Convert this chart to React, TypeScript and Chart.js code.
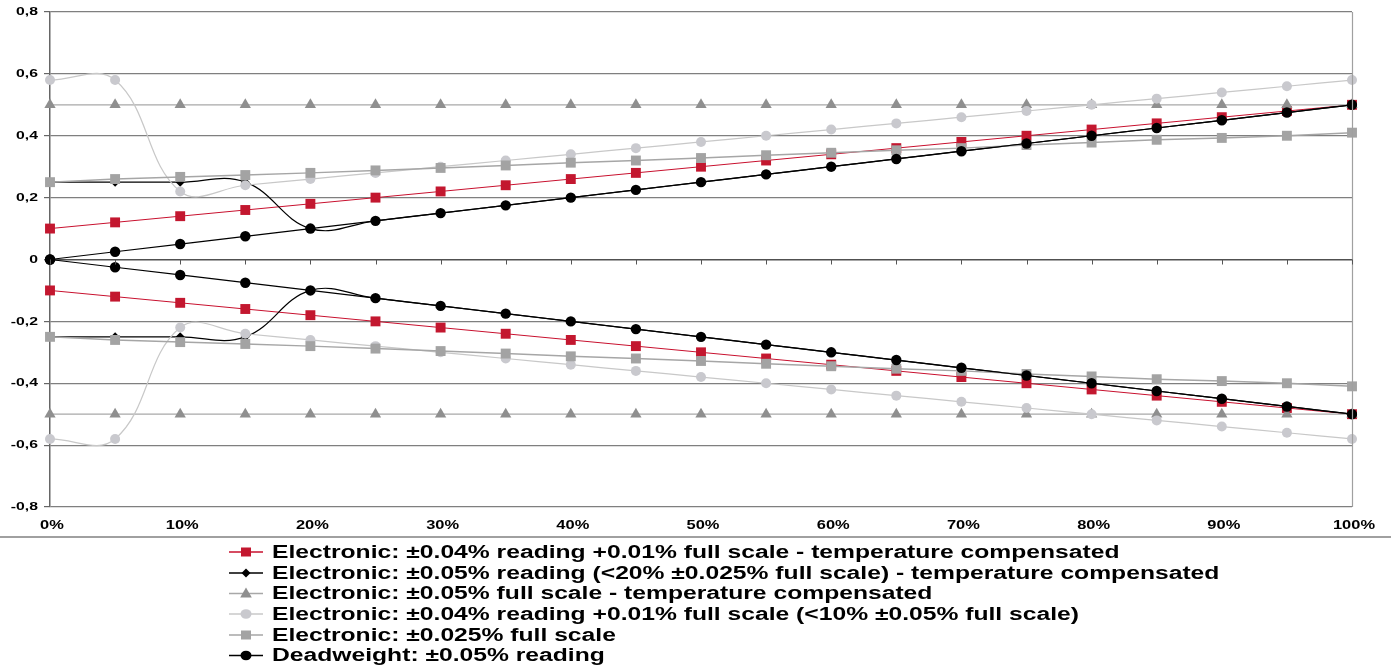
import { useEffect, useRef } from 'react';
import { Chart, registerables } from 'chart.js';

Chart.register(...registerables);

const categories = ['0%', '5%', '10%', '15%', '20%', '25%', '30%', '35%', '40%', '45%', '50%', '55%', '60%', '65%', '70%', '75%', '80%', '85%', '90%', '95%', '100%'];

const redUpper = [0.10, 0.12, 0.14, 0.16, 0.18, 0.20, 0.22, 0.24, 0.26, 0.28, 0.30, 0.32, 0.34, 0.36, 0.38, 0.40, 0.42, 0.44, 0.46, 0.48, 0.50];
const redLower = [-0.10, -0.12, -0.14, -0.16, -0.18, -0.20, -0.22, -0.24, -0.26, -0.28, -0.30, -0.32, -0.34, -0.36, -0.38, -0.40, -0.42, -0.44, -0.46, -0.48, -0.50];

const diamondUpper = [0.25, 0.25, 0.25, 0.25, 0.10, 0.125, 0.15, 0.175, 0.20, 0.225, 0.25, 0.275, 0.30, 0.325, 0.35, 0.375, 0.40, 0.425, 0.45, 0.475, 0.50];
const diamondLower = [-0.25, -0.25, -0.25, -0.25, -0.10, -0.125, -0.15, -0.175, -0.20, -0.225, -0.25, -0.275, -0.30, -0.325, -0.35, -0.375, -0.40, -0.425, -0.45, -0.475, -0.50];

const triangleUpper = [0.5, 0.5, 0.5, 0.5, 0.5, 0.5, 0.5, 0.5, 0.5, 0.5, 0.5, 0.5, 0.5, 0.5, 0.5, 0.5, 0.5, 0.5, 0.5, 0.5, 0.5];
const triangleLower = [-0.5, -0.5, -0.5, -0.5, -0.5, -0.5, -0.5, -0.5, -0.5, -0.5, -0.5, -0.5, -0.5, -0.5, -0.5, -0.5, -0.5, -0.5, -0.5, -0.5, -0.5];

const circleUpper = [0.58, 0.58, 0.22, 0.24, 0.26, 0.28, 0.30, 0.32, 0.34, 0.36, 0.38, 0.40, 0.42, 0.44, 0.46, 0.48, 0.50, 0.52, 0.54, 0.56, 0.58];
const circleLower = [-0.58, -0.58, -0.22, -0.24, -0.26, -0.28, -0.30, -0.32, -0.34, -0.36, -0.38, -0.40, -0.42, -0.44, -0.46, -0.48, -0.50, -0.52, -0.54, -0.56, -0.58];

const squareUpper = [0.25, 0.26, 0.267, 0.273, 0.28, 0.288, 0.296, 0.304, 0.313, 0.32, 0.328, 0.337, 0.345, 0.353, 0.36, 0.37, 0.378, 0.387, 0.393, 0.40, 0.41];
const squareLower = [-0.25, -0.26, -0.267, -0.273, -0.28, -0.288, -0.296, -0.304, -0.313, -0.32, -0.328, -0.337, -0.345, -0.353, -0.36, -0.37, -0.378, -0.387, -0.393, -0.40, -0.41];

const deadweightUpper = [0, 0.025, 0.05, 0.075, 0.10, 0.125, 0.15, 0.175, 0.20, 0.225, 0.25, 0.275, 0.30, 0.325, 0.35, 0.375, 0.40, 0.425, 0.45, 0.475, 0.50];
const deadweightLower = [0, -0.025, -0.05, -0.075, -0.10, -0.125, -0.15, -0.175, -0.20, -0.225, -0.25, -0.275, -0.30, -0.325, -0.35, -0.375, -0.40, -0.425, -0.45, -0.475, -0.50];

const legendLabels = [
  'Electronic: ±0.04% reading +0.01% full scale - temperature compensated',
  'Electronic: ±0.05% reading (<20% ±0.025% full scale) - temperature compensated',
  'Electronic: ±0.05% full scale - temperature compensated',
  'Electronic: ±0.04% reading +0.01% full scale (<10% ±0.05% full scale)',
  'Electronic: ±0.025% full scale',
  'Deadweight: ±0.05% reading',
];

const W = 1391;
const H = 666;
const FONT = '"Liberation Sans", Arial, sans-serif';
const SX = 1.37;

type Style = {
  line: string;
  fill: string;
  point: string;
  radius: number;
  width: number;
  tension: number;
};

const styles: Style[] = [
  { line: '#C8102E', fill: '#C3172F', point: 'rect', radius: 7, width: 1, tension: 0 },
  { line: '#000000', fill: '#000000', point: 'rectRot', radius: 4.5, width: 1.2, tension: 0.4 },
  { line: '#A8A8A8', fill: '#8F8F8F', point: 'triangle', radius: 6.5, width: 1.2, tension: 0 },
  { line: '#C8C8C8', fill: '#C9C9CE', point: 'circle', radius: 5, width: 1.2, tension: 0.4 },
  { line: '#A6A6A6', fill: '#A3A3A3', point: 'rect', radius: 7, width: 1.5, tension: 0 },
  { line: '#000000', fill: '#000000', point: 'circle', radius: 5.2, width: 1.2, tension: 0 },
];

const seriesPairs = [
  [redUpper, redLower],
  [diamondUpper, diamondLower],
  [triangleUpper, triangleLower],
  [circleUpper, circleLower],
  [squareUpper, squareLower],
  [deadweightUpper, deadweightLower],
];

function stretchText(ctx: CanvasRenderingContext2D, text: string, x: number, y: number, align: CanvasTextAlign, font: string) {
  ctx.save();
  ctx.font = font;
  ctx.translate(x, y);
  ctx.scale(SX, 1);
  ctx.textAlign = align;
  ctx.textBaseline = 'middle';
  ctx.fillStyle = '#000';
  ctx.fillText(text, 0, 0);
  ctx.restore();
}

function drawMarker(ctx: CanvasRenderingContext2D, kind: string, cx: number, cy: number, color: string) {
  ctx.save();
  ctx.fillStyle = color;
  ctx.beginPath();
  if (kind === 'rect') {
    ctx.rect(cx - 5, cy - 4.5, 10, 9);
  } else if (kind === 'rectRot') {
    ctx.moveTo(cx, cy - 4.5);
    ctx.lineTo(cx + 4.5, cy);
    ctx.lineTo(cx, cy + 4.5);
    ctx.lineTo(cx - 4.5, cy);
    ctx.closePath();
  } else if (kind === 'triangle') {
    ctx.moveTo(cx, cy - 6);
    ctx.lineTo(cx + 5.8, cy + 4);
    ctx.lineTo(cx - 5.8, cy + 4);
    ctx.closePath();
  } else {
    ctx.ellipse(cx, cy, 5.5, 4.8, 0, 0, Math.PI * 2);
  }
  ctx.fill();
  ctx.restore();
}

const decorPlugin = {
  id: 'decor',
  afterDraw(chart: any) {
    const ctx: CanvasRenderingContext2D = chart.ctx;
    const area = chart.chartArea;
    const xs = chart.scales.x;
    const ys = chart.scales.y;

    // right border of plot area
    ctx.save();
    ctx.strokeStyle = '#A0A0A0';
    ctx.lineWidth = 1.2;
    ctx.beginPath();
    ctx.moveTo(area.right + 0.5, area.top);
    ctx.lineTo(area.right + 0.5, area.bottom);
    ctx.stroke();

    // category tick marks on the zero line
    const y0 = ys.getPixelForValue(0);
    ctx.strokeStyle = '#555';
    ctx.lineWidth = 1;
    ctx.beginPath();
    categories.forEach((_, i) => {
      const x = Math.round(xs.getPixelForValue(i)) + 0.5;
      ctx.moveTo(x, y0);
      ctx.lineTo(x, y0 + 5);
    });
    ctx.stroke();

    // separator line above legend
    ctx.strokeStyle = '#808080';
    ctx.lineWidth = 1.5;
    ctx.beginPath();
    ctx.moveTo(0, 537);
    ctx.lineTo(W, 537);
    ctx.stroke();
    ctx.restore();

    // x labels
    categories.forEach((lab, i) => {
      if (i % 2 !== 0) return;
      stretchText(ctx, lab, xs.getPixelForValue(i) + 2, area.bottom + 19, 'center', `bold 12px ${FONT}`);
    });

    // y labels
    ys.ticks.forEach((t: any, i: number) => {
      const v = t.value;
      const s = Math.abs(v) < 1e-9 ? '0' : v.toFixed(1).replace('.', ',');
      stretchText(ctx, s, 38, ys.getPixelForTick(i), 'right', `bold 11.5px ${FONT}`);
    });

    // legend
    const rowY = [552, 573, 593.5, 614, 635, 655.5];
    legendLabels.forEach((lab, i) => {
      const st = styles[i];
      const cy = rowY[i];
      ctx.save();
      ctx.strokeStyle = st.line;
      ctx.lineWidth = 1.3;
      ctx.beginPath();
      ctx.moveTo(229, cy);
      ctx.lineTo(263, cy);
      ctx.stroke();
      ctx.restore();
      drawMarker(ctx, st.point, 246, cy, st.fill);
      stretchText(ctx, lab, 272, cy + 1, 'left', `bold 18px ${FONT}`);
    });
  },
};

export default function App() {
  const ref = useRef<HTMLCanvasElement>(null);

  useEffect(() => {
    if (!ref.current) return;
    const datasets: any[] = [];
    seriesPairs.forEach((pair, si) => {
      const st = styles[si];
      pair.forEach((data, k) => {
        datasets.push({
          label: legendLabels[si] + (k === 0 ? ' (+)' : ' (-)'),
          data,
          borderColor: st.line,
          borderWidth: st.width,
          backgroundColor: st.fill,
          pointStyle: st.point,
          pointRadius: st.radius,
          pointBackgroundColor: st.fill,
          pointBorderColor: st.fill,
          pointBorderWidth: 0,
          tension: st.tension,
          fill: false,
          order: 100 - si * 2 - k,
        });
      });
    });

    const chart = new Chart(ref.current, {
      type: 'line',
      data: { labels: categories, datasets },
      plugins: [decorPlugin],
      options: {
        animation: false,
        responsive: false,
        maintainAspectRatio: false,
        layout: { padding: { top: 12, right: 39, left: 0, bottom: 0 } },
        plugins: {
          legend: { display: false },
          tooltip: { enabled: false },
        },
        scales: {
          x: {
            type: 'category',
            offset: false,
            ticks: { display: false },
            grid: { display: false },
            border: { display: false },
            afterFit: (scale: any) => {
              scale.height = 159;
            },
          },
          y: {
            type: 'linear',
            min: -0.8,
            max: 0.8,
            ticks: { display: false, stepSize: 0.2 },
            grid: {
              color: (c: any) => (Math.abs(c.tick?.value ?? 1) < 1e-9 ? '#505050' : '#7F7F7F'),
              lineWidth: (c: any) => (Math.abs(c.tick?.value ?? 1) < 1e-9 ? 1.5 : 1.2),
              drawTicks: true,
              tickLength: 6,
              tickColor: '#666',
            },
            border: { display: true, color: '#666', width: 1.5 },
            afterFit: (scale: any) => {
              scale.width = 50;
            },
          },
        },
      } as any,
    });
    return () => chart.destroy();
  }, []);

  return (
    <div style={{ position: 'absolute', left: 0, top: 0, width: W, height: H, background: '#fff' }}>
      <canvas ref={ref} width={W} height={H} style={{ display: 'block', width: W, height: H }} />
    </div>
  );
}
